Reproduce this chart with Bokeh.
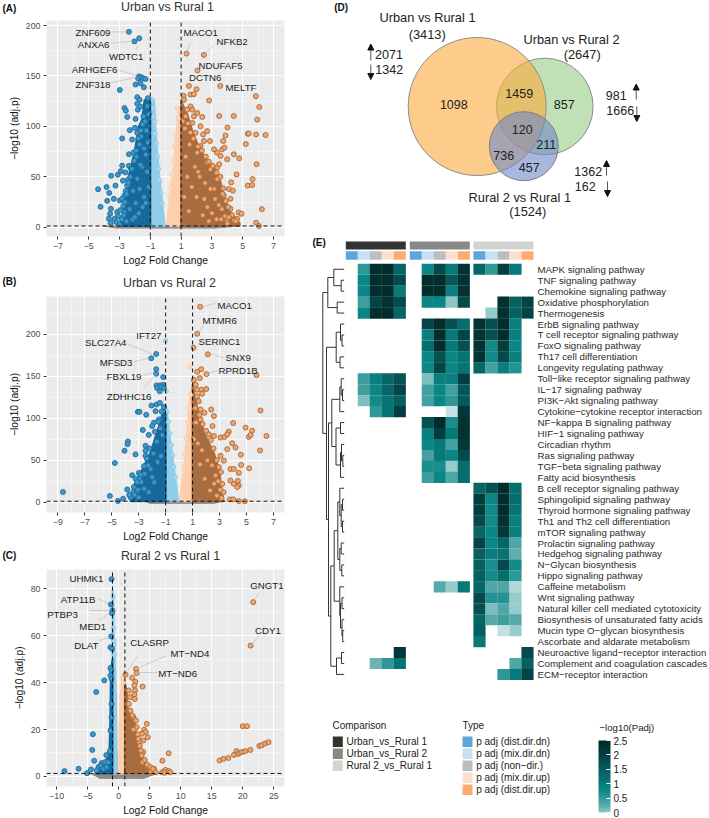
import numpy as np
from bokeh.embed import file_html
from bokeh.resources import INLINE
from bokeh.core.properties import value
from bokeh.layouts import column, row
from bokeh.models import (Arrow, ColorBar, ColumnDataSource, FixedTicker, LinearColorMapper,
                          NormalHead, Range1d)
from bokeh.plotting import figure

FONT = "Liberation Sans"

# ---------- Panel A values ----------
A_down_x = [-2.39,-1.72,-2.03,-1.74,-1.79,-1.59,-1.46,-1.31,-2.98,-1.42,-1.96,-1.64,-1.16,-1.85,-1.7,-1.85,-2.68,-2.59,-2.5,-1.96,-1.81,-1.64,-2.33,-2,-2.83,-2.39,-2.83,-3.11,-3.54,-2.91,-2.78,-4.39,-3.84,-3.67,-3.8,-4.23,-2.98,-3.37,-2.68,-3.26,-3.56,-3.15,-3.61,-3.32,-3.69,-3.58,-2.68,-2.18,-2.39,-2.61,-2.5,-2.83,-1.85,-1.2,-1.1,-1.35,-1.5,-1.25,-1.6,-1.15,-1.4,-1.7,-1.9,-2.1,-2.25,-2.45,-2.6,-2.75,-2.95,-3.1,-3.2,
 -1.45,-1.62,-1.78,-1.92,-2.05,-2.2,-2.3,-2.42,-2.55,-2.65,-2.72,-2.85,-3,-1.3,-1.55,-1.85,-2.12,-1.7,-1.2,-1.95,-2.35,-1.4,-1.75,-2.15,-1.5,-1.1,-1.3,-2.55,-2.0,-1.65]
A_down_y = [193.8,187.3,184.3,149.6,147.4,148.7,147.7,147,136.2,138.8,141.5,142.8,128,129,126.4,122.5,118.2,115.6,109.4,107.4,116.6,119.8,96.3,98.6,88.1,72.4,61.2,52.1,51.1,55.7,46.2,37.7,39.9,34.1,26.2,20.3,26.5,28.2,31.4,41.3,18.3,15.1,13.4,8.5,8.5,4.3,15.1,87,60.9,54.4,41.3,28.2,93.6,120,112,105,102,96,90,84,78,82,70,74,58,47,36,21,17,11,5,
 110,96,88,76,66,58,50,44,33,25,12,8,3,72,60,48,36,38,55,24,18,30,14,8,20,40,24,6,10,62]
A_up_x = [1.35,2.48,2.06,1.5,2,3.54,1.61,1.83,1.16,1.18,2.82,5.85,6.07,5.94,3.47,4.42,2.37,4.01,5.33,5.39,5.87,6.48,5.2,3.73,3.88,2.69,2.43,1.83,1.61,1.39,1.29,1.72,2.04,1.72,2.26,1.94,2.48,2.87,3.67,3.82,4.42,4.77,3.99,3.56,3.34,3.34,2.91,4.6,5.9,4.25,5.64,5.33,5.61,6.24,4.73,4.92,5.87,6.05,3.73,4.1,4.36,3.77,4.2,3.34,3.13,4.64,4.42,3.99,4.2,3.47,2.69,2.26,2.04,3.13,1.1,1.25,1.45,1.6,1.8,2.1,2.35,2.6,2.8,3.05,3.3,3.55,3.7,3.9,4.05,4.3,4.55,
 1.3,1.55,1.9,2.2,2.55,2.9,3.2,3.45,3.65,3.85,4.1,2.0,1.4,2.7,3.0,1.7,2.4,3.3,2.1,1.2,3.6,2.8,1.5,2.5,4.0]
A_up_y = [172.2,170.9,155.5,140.1,136.9,140.1,131.6,132,130.3,126.4,125.7,130,119.2,106.7,110.3,110.3,109.4,98.9,92.7,93,92,91.4,82.5,85.5,91,95.3,92,110,119.8,116.6,110,116.6,113.3,103.5,100.2,93.6,85.5,85.5,77.3,78.9,72.4,68.4,67.5,70.7,74,59.3,57.6,52.4,62.5,44.5,47.8,41.3,41.9,18,14.7,13.4,4.6,1.3,38.6,38,36.3,31.4,28.2,47.8,38,8.5,6.9,6.9,18.3,62.5,64.2,80.5,74,77.3,105,98,103,94,88,80,76,70,65,61,54,50,33,26,20,12,6,
 70,82,60,50,44,38,28,22,18,11,10,30,50,20,14,40,12,8,55,30,8,6,16,28,4]
A_ldown_x = [-0.88,-0.82,-0.78,-0.72,-0.7,-0.62,-0.55,-0.48,-0.4,-0.32,-0.25]
A_ldown_y = [126,118,110,105,93,83,70,58,46,34,24]
A_lup_x = [0.74,0.8,0.66,0.6,0.52,0.42,0.35,0.28]
A_lup_y = [118,108,90,80,66,52,40,30]
A_ddown_x = [-1,-1.38,-1.53,-1.75,-1.96,-2.18,-2.39,-2.61,-2.89,-3.04,-1]
A_ddown_y = [128,126,106.7,100,80.5,64.2,51.1,28.2,5.2,1.3,1.3]
A_dldown_x = [-1,-0.75,-0.68,-0.6,-0.42,-0.2,-0.06,-1]
A_dldown_y = [128,126,100,85,50,20,1.3,1.3]
A_dlup_x = [0.06,0.25,0.45,0.6,0.68,0.85,1,1]
A_dlup_y = [1.3,25,50,75,90,118,120,1.3]
A_dup_x = [1,1.4,1.8,2.2,2.6,3.1,3.5,3.8,4.2,4.8,4.8,1]
A_dup_y = [125,112,92,78,68,60,48,30,15,4,1.3,1.3]
A_ns_x = [-4.1,4.8,3.2,-3.2]
A_ns_y = [1.3,1.3,-0.8,-0.8]

# ---------- Panel B values ----------
B_down_x = [-1.7,-2.07,-1.7,-1.7,-1.18,-1.68,-1.43,-1.18,-1.63,-1.33,-1.13,-1.43,-2.05,-1.68,-1.43,-1.13,-3.06,-2.94,-2.44,-1.75,-1.87,-1.5,-2,-2.25,-2.69,-3.8,-3.83,-4.05,-3.23,-2.49,-2.49,-2.49,-4.77,-3.48,-2.99,-2.91,-3.23,-3.85,-3.36,-3.11,-8.62,-5.14,-4.15,-4.54,-3.48,-2.12,-1.3,-1.55,-1.8,-2.2,-2.4,-2.6,-2.85,-3.1,-3.4,-3.6,-3.7,
 -1.4,-1.65,-1.9,-2.3,-2.55,-2.8,-3.05,-3.3,-1.25,-1.6,-2.0,-2.6,-3.0,-1.85,-1.35,-2.25]
B_down_y = [176.4,171.2,158.3,152.8,148.9,139,139,139.8,135.9,137.1,135.9,132,115,116.3,118.2,113.5,107.6,107.6,104.1,108.4,94.7,98.6,90.7,80.1,86,72.3,69.1,61.3,57,67.2,61.3,55.4,46.7,32.2,35,27.9,27.9,15.3,18.1,13,12.2,7.5,4.3,1.6,8.2,39.7,108,96,84,64,52,43,33,24,12,6,9,
 88,72,58,44,34,24,15,9,80,48,30,16,6,24,55,12]
B_up_x = [1.56,1.34,1.07,2.13,5.74,1.64,1.34,2.03,1.09,1.54,1.22,1.34,1.66,2.01,1.71,1.34,1.46,1.59,2.38,1.88,2.58,6.04,4.01,4.93,5.42,5.17,5.3,6.48,6.01,5.2,4.6,4.58,3.07,3.37,3.69,3.57,3.94,4.18,3.57,3.07,3.32,3.81,4.06,4.43,3.81,4.36,4.43,4.06,4.31,3.76,4.01,4.43,4.88,2.58,2.21,2.48,1.59,1.2,1.5,1.75,2,2.35,2.55,2.8,2.95,3.1,3.2,3.3,
 1.4,1.7,2.1,2.45,2.7,2.9,3.05,1.25,1.9,2.3,2.6,1.55,1.1,2.8,3.15]
B_up_y = [232.5,200.3,183.8,176,151.2,158.3,155.1,152.4,145.7,147.7,139.8,133.9,133.9,134.7,129.2,126,120.2,110.4,110.4,106.4,102.5,109.2,94.3,88.8,85.2,77.8,80.1,78.9,61.7,40.5,44.4,56.6,77,77.8,84,80.9,70.3,65.2,63.2,55.4,49.5,39.7,39.7,35,25.9,25.5,20,22,18.1,3.5,3.5,1.6,1.2,78.9,80.9,90.7,98.6,112,104,93,85,74,64,50,42,36,22,12,
 70,62,50,44,32,25,15,95,28,14,22,45,75,8,5]
B_ldown_x = [-1,-0.95,-0.9,-0.8,-0.7,-0.6,-0.5,-0.4,-0.3]
B_ldown_y = [192,132,108,96,82,68,56,42,30]
B_lup_x = [0.8,0.85,0.75,0.65,0.55,0.45,0.35]
B_lup_y = [161,128,112,95,76,58,42]
B_ddown_x = [-1,-1.25,-1.5,-1.75,-2.1,-2.7,-3.35,-3.6,-3.6,-1]
B_ddown_y = [115,105,90,78,60,40,20,4,1.3,1.3]
B_dldown_x = [-1,-0.85,-0.75,-0.5,-0.25,-0.06,-1]
B_dldown_y = [115,100,85,55,25,1.3,1.3]
B_dlup_x = [0.04,0.25,0.45,0.6,0.7,0.85,1,1]
B_dlup_y = [1.3,25,55,85,105,130,140,1.3]
B_dup_x = [1,1.3,1.6,1.85,2.3,2.6,3,3.2,3.3,1]
B_dup_y = [140,115,100,82,68,58,35,10,1.3,1.3]
B_ns_x = [-2.5,3.3,2.6,-2.2]
B_ns_y = [1.3,1.3,-1.2,-1.2]

# ---------- Panel C values ----------
C_down_x = [-1.16,-1.26,-1,-1.1,-1.21,-1.32,-1.05,-1.32,-1.16,-1.32,-1.16,-2.32,-3.63,-1.16,-1.16,-1.32,-1.42,-4.16,-4.26,-3.95,-2,-8.74,-6.47,-5.1,-4.47,-3.26,-2.74,-2.21,-2.89,-3.53,-2.47,-1.95,-1.68]
C_down_y = [84,73.2,70.6,69.5,59.6,55,54.3,46.2,45.1,43,41.6,40.9,36,30.9,25.2,19.6,10.8,18,11.3,6.7,9.1,2.3,3.3,1.4,3,4,5.7,6.1,4.7,2.6,3.3,4,6.1]
C_up_x = [21.68,21.26,2.79,2.89,1.11,2.16,3.84,2.68,2.53,2.63,2.53,2.58,1.63,1.84,1.63,4.53,4.1,4.37,3.74,4.68,3.95,3.32,3.16,2.37,2.79,8.05,7.05,3.95,3.84,4.89,5.68,5.16,5.95,7.53,7,8.05,8.32,7.37,20,20.68,16.26,16.89,17.68,18.58,19,19.21,19.53,19.89,20.42,21.21,22.68,23.05,23.58,24.16,
 2.2,2.9,3.1,3.4,3.7,4.2,4.6,5.1,5.5,1.9,2.4,3.6]
C_up_y = [74.2,55.7,45.8,44,43.4,42,38.3,40.3,38.7,36.6,34.9,33,36.6,33.8,30.9,22.4,19.9,18.9,18.2,16.7,15.3,14.6,16,25.2,23.8,9.9,6.7,10.4,6.1,4,3.3,2.3,1.8,2.8,1.8,2.3,1.8,1.6,21.4,21.4,6.8,7.5,7.9,9.2,10.8,9.6,10.1,10.4,10.8,11.3,13,13.3,14,14.6,
 26,21,18,13,9,7,5,4,3.2,28,20,11]
C_ldown_x = [-0.9,-0.85,-0.8,-0.75,-0.7]
C_ldown_y = [76.5,63,58,56,52]
C_lup_x = [0.6,0.75]
C_lup_y = [42,40]
C_ddown_x = [-1,-1.25,-1.35,-1.5,-2.2,-3,-3.6,-1]
C_ddown_y = [50,45,25,10,6,3,1.3,1.3]
C_dldown_x = [-1,-0.85,-0.8,-0.6,-0.45,-0.35,-0.2,-1]
C_dldown_y = [80,75,60,50,35,15,1.3,1.3]
C_dlup_x = [0.05,0.1,0.3,0.6,1,1]
C_dlup_y = [1.3,20,35,42,44,1.3]
C_dup_x = [1,1.3,1.5,2.5,2.8,3.3,3.6,4.4,6,6.2,1]
C_dup_y = [40,36,27,26,18,15,8,5,2.5,1.3,1.3]
C_ns_x = [-4.5,6.2,4,-3]
C_ns_y = [1.3,1.3,-0.8,-0.8]

# ---------- Venn values ----------
venn_counts = ["1098","1459","857","120","211","736","457"]
venn_sets = ["Urban vs Rural 1","Urban vs Rural 2","Rural 2 vs Rural 1"]
venn_sizes = ["(3413)","(2647)","(1524)"]
venn_updown = ["2071","1342","981","1666","1362","162"]

# ---------- Heat map values ----------
PATHWAYS = ["MAPK signaling pathway","TNF signaling pathway","Chemokine signaling pathway","Oxidative phosphorylation","Thermogenesis","ErbB signaling pathway","T cell receptor signaling pathway","FoxO signaling pathway","Th17 cell differentiation","Longevity regulating pathway","Toll−like receptor signaling pathway","IL−17 signaling pathway","PI3K−Akt signaling pathway","Cytokine−cytokine receptor interaction","NF−kappa B signaling pathway","HIF−1 signaling pathway","Circadian rhythm","Ras signaling pathway","TGF−beta signaling pathway","Fatty acid biosynthesis","B cell receptor signaling pathway","Sphingolipid signaling pathway","Thyroid hormone signaling pathway","Th1 and Th2 cell differentiation","mTOR signaling pathway","Prolactin signaling pathway","Hedgehog signaling pathway","N−Glycan biosynthesis","Hippo signaling pathway","Caffeine metabolism","Wnt signaling pathway","Natural killer cell mediated cytotoxicity","Biosynthesis of unsaturated fatty acids","Mucin type O−glycan biosynthesis","Ascorbate and aldarate metabolism","Neuroactive ligand−receptor interaction","Complement and coagulation cascades","ECM−receptor interaction"]
_ = float("nan")
HEAT = [
 [_,.8,2.4,2.4,1.5, _,1.0,1.9,1.2,2.3, 1.5,.8,2.1,1.2,_],
 [_,1.0,2.4,2.4,1.9, _,2.4,2.4,1.7,2.3, _,_,_,_,_],
 [_,1.0,2.4,2.4,1.2, _,2.4,2.4,1.1,2.3, _,_,_,_,_],
 [_,.7,2.0,2.3,1.9, _,1.0,1.0,.35,1.9, _,_,2.3,1.6,2.0],
 [_,1.0,2.4,2.4,1.5, _,_,_,_,_, _,.3,2.3,1.6,2.0],
 [_,_,_,_,_, _,2.0,2.4,1.8,1.4, 2.3,1.8,2.4,1.1,_],
 [_,_,_,_,_, _,1.1,2.4,1.2,2.0, 2.3,1.8,2.4,1.1,_],
 [_,_,_,_,_, _,1.4,2.4,1.2,1.8, 2.3,.95,2.1,1.0,_],
 [_,_,_,_,_, _,1.0,1.8,1.0,1.3, 2.3,.95,1.9,1.1,_],
 [_,_,_,_,_, _,1.0,2.0,1.0,1.3, 1.5,.65,1.1,.85,_],
 [_,.7,1.1,1.5,1.8, _,.4,1.1,1.1,2.1, _,_,_,_,_],
 [_,.7,1.0,1.5,2.0, _,.65,1.0,.65,1.7, _,_,_,_,_],
 [_,.4,.95,1.3,1.6, _,.65,1.0,.8,1.7, _,_,_,_,_],
 [_,_,.8,1.3,2.1, _,_,_,.12,2.2, _,_,_,_,_],
 [_,_,_,_,_, _,1.8,2.4,.9,2.3, _,_,_,_,_],
 [_,_,_,_,_, _,1.1,2.1,1.2,2.3, _,_,_,_,_],
 [_,_,_,_,_, _,1.0,1.2,.65,2.2, _,_,_,_,_],
 [_,_,_,_,_, _,.65,1.2,1.0,1.9, _,_,_,_,_],
 [_,_,_,_,_, _,.9,.9,.3,1.4, _,_,_,_,_],
 [_,_,_,_,_, _,.7,1.0,.6,1.4, _,_,_,_,_],
 [_,_,_,_,_, _,_,_,_,_, 1.5,1.8,2.4,1.4,_],
 [_,_,_,_,_, _,_,_,_,_, 2.1,1.0,2.4,1.4,_],
 [_,_,_,_,_, _,_,_,_,_, 2.1,.95,2.4,1.3,_],
 [_,_,_,_,_, _,_,_,_,_, 1.9,.95,2.3,1.1,_],
 [_,_,_,_,_, _,_,_,_,_, 1.5,1.0,2.2,1.1,_],
 [_,_,_,_,_, _,_,_,_,_, 2.0,1.0,1.5,.6,_],
 [_,_,_,_,_, _,_,_,_,_, 1.6,1.15,1.3,.5,_],
 [_,_,_,_,_, _,_,_,_,_, 1.6,.9,1.9,.95,_],
 [_,_,_,_,_, _,_,_,_,_, 1.6,.95,1.4,.8,_],
 [_,_,_,_,_, _,_,.55,.3,1.2, 1.5,.6,.6,.2,_],
 [_,_,_,_,_, _,_,_,_,_, 1.9,.85,.85,.3,_],
 [_,_,_,_,_, _,_,_,_,_, 1.8,.4,.6,.3,_],
 [_,_,_,_,_, _,_,_,_,_, 1.5,.55,.7,.55,_],
 [_,_,_,_,_, _,_,_,_,_, 1.6,_,.15,.3,_],
 [_,_,_,_,_, _,_,_,_,_, 1.2,_,_,_,_],
 [_,_,_,_,2.2, _,_,_,_,_, _,_,_,_,1.9],
 [_,_,.45,.8,1.3, _,_,_,_,_, _,_,_,.6,1.6],
 [_,_,_,_,_, _,_,_,_,_, _,_,.8,1.2,2.0],
]
COMPARISONS = ["Urban_vs_Rural 1","Urban_vs_Rural 2","Rural 2_vs_Rural 1"]
COMP_COLORS = ["#333333","#888888","#D3D3D3"]
TYPES = ["p adj (dist.dir.dn)","p adj (mix.dir.dn)","p adj (non−dir.)","p adj (mix.dir.up)","p adj (dist.dir.up)"]
TYPE_COLORS = ["#5BA8D8","#C3E2F4","#BDBDBD","#FCE0CE","#FDAB6E"]
# dendrogram: (merge position, child, child); integers are rows
t1 = (327.3,(333.3,0,(340.7,1,2)),(336.7,3,4))
t2 = (335.7,(340,5,(341.5,6,7)),(339.5,8,9))
t3 = (331.3,(339.3,(340.7,10,(342,11,12)),13),(335.5,(340,14,15),(340,(341,16,(342.3,17,18)),19)))
t4 = (337.3,(339.3,20,(340.7,(342,21,22),(342,23,24))),(339.3,(340.7,25,26),(341.3,27,28)))
t5 = (339.3,29,(340,(341.5,30,31),(341.5,32,(342.2,33,34))))
t7 = (336,(341,35,36),37)
DENDRO = (322.3,t1,(326,t2,(328,t3,(330.3,(333.7,t4,t5),t7))))


def text(p, xs, ys, ts, size="12.5px", align="center", color="#222222", style="normal"):
    p.text(xs, ys, text=ts, text_align=align, text_baseline="middle", text_font=value(FONT),
           text_font_size=size, text_color=color, text_font_style=style)


def blank(width, height, xr, yr):
    f = figure(width=width, height=height, output_backend="svg", toolbar_location=None, tools="",
               x_range=Range1d(*xr), y_range=Range1d(*yr), x_axis_type=None, y_axis_type=None,
               min_border=0, outline_line_color=None)
    f.grid.visible = False
    return f


def volcano(title, title_x, title_y, letter, letter_y, page_top, page_bottom, frame, xlim, ylim, xticks, xminor, yticks, yminor, d, labels):
    L, R, T, B = frame
    head = blank(290, T - page_top, (0, 290), (T, page_top))
    text(head, [title_x], [title_y], [title], size="12.4px", color="#333333")
    text(head, [2], [letter_y], [letter], size="10px", align="left", color="#111111", style="bold")
    dx = lambda px: xlim[0] + (px - L) / (R - L) * (xlim[1] - xlim[0])
    dy = lambda py: ylim[1] - (py - T) / (B - T) * (ylim[1] - ylim[0])
    p = figure(width=290, height=page_bottom - T, output_backend="svg", toolbar_location=None,
               x_range=Range1d(*xlim), y_range=Range1d(*ylim), tools="",
               min_border_left=L, min_border_right=290 - R, min_border_top=0,
               min_border_bottom=page_bottom - B)
    p.background_fill_color = "#EBEBEB"
    p.outline_line_color = None
    p.xaxis.ticker = FixedTicker(ticks=xticks, minor_ticks=xminor)
    p.yaxis.ticker = FixedTicker(ticks=yticks, minor_ticks=yminor)
    p.xaxis.major_label_overrides = {t: (f"−{abs(t)}" if t < 0 else str(t)) for t in xticks}
    p.xaxis.axis_label = "Log2 Fold Change"
    p.yaxis.axis_label = "−log10 (adj.p)"
    for ax in (p.xaxis[0], p.yaxis[0]):
        ax.axis_line_color = None
        ax.major_tick_in = 0
        ax.major_tick_out = 3
        ax.minor_tick_line_color = None
        ax.major_tick_line_color = "#333333"
        ax.major_label_text_font = FONT
        ax.major_label_text_font_size = "8.8px"
        ax.major_label_text_color = "#4D4D4D"
        ax.major_label_standoff = 2
        ax.axis_label_text_font = FONT
        ax.axis_label_text_font_size = "10.3px"
        ax.axis_label_text_font_style = "normal"
        ax.axis_label_text_color = "#111111"
        ax.axis_label_standoff = 3
    for g in (p.xgrid[0], p.ygrid[0]):
        g.grid_line_color = "white"
        g.grid_line_width = 1
        g.minor_grid_line_color = "white"
        g.minor_grid_line_width = 0.4
    p.patch(d["ns"][0], d["ns"][1], fill_color="#8A8A8A", line_color="#8A8A8A", line_width=1)
    p.patch(d["dl"][0], d["dl"][1], fill_color="#8FCDEB", line_color="#8FCDEB", line_width=2)
    p.patch(d["ul"][0], d["ul"][1], fill_color="#FFCFAD", line_color="#FFCFAD", line_width=2)
    p.patch(d["dd"][0], d["dd"][1], fill_color="#17699B", line_color="#17699B", line_width=2)
    p.patch(d["ud"][0], d["ud"][1], fill_color="#A76D40", line_color="#A76D40", line_width=2)
    p.scatter(d["ld"][0], d["ld"][1], size=4.6, fill_color="#A8D9F1", line_color="#7FC3E6", line_width=0.6)
    p.scatter(d["lu"][0], d["lu"][1], size=4.6, fill_color="#FFD9BE", line_color="#FBC59E", line_width=0.6)
    p.scatter(d["d"][0], d["d"][1], size=5, fill_color="#3F97C8", line_color="#1B6C9E", line_width=0.9)
    p.scatter(d["u"][0], d["u"][1], size=5, fill_color="#F0A56A", line_color="#A5673A", line_width=0.9)
    dash = dict(line_color="#111111", line_dash="4 3", line_width=1)
    p.segment([-1, 1, xlim[0]], [ylim[0], ylim[0], 1.3], [-1, 1, xlim[1]], [ylim[1], ylim[1], 1.3], **dash)
    names, lx, ly, aligns, sx0, sy0, sx1, sy1 = [], [], [], [], [], [], [], []
    for n, x, y, a, seg in labels:
        names.append(n); lx.append(dx(x)); ly.append(dy(y)); aligns.append(a)
        if seg:
            sx0.append(dx(seg[0])); sy0.append(dy(seg[1])); sx1.append(dx(seg[2])); sy1.append(dy(seg[3]))
    p.segment(sx0, sy0, sx1, sy1, line_color="#BDBDBD", line_width=0.7)
    p.text(lx, ly, text=names, text_align=aligns, text_baseline="middle", text_font=value(FONT),
           text_font_size="9.7px", text_color="#1A1A1A")
    # the header sits in a row of its own so that Bokeh does not align its frame with the plot's
    return [row(head, spacing=0), p]


pa = volcano("Urban vs Rural 1", 167, 6, "(A)", 8, 0, 268, (46, 284, 20, 238), (-7.74, 7.71), (-9.14, 205),
    [-7,-5,-3,-1,1,3,5,7], [-6,-4,-2,0,2,4,6], [0,50,100,150,200], [25,75,125,175],
    dict(d=(A_down_x,A_down_y), u=(A_up_x,A_up_y), ld=(A_ldown_x,A_ldown_y), lu=(A_lup_x,A_lup_y),
         dd=(A_ddown_x,A_ddown_y), dl=(A_dldown_x,A_dldown_y), ul=(A_dlup_x,A_dlup_y), ud=(A_dup_x,A_dup_y), ns=(A_ns_x,A_ns_y)),
    [("ZNF609",110,32,"right",(111,31.5,125,31.5)),("ANXA6",109,44,"right",(110,43,131,41)),
     ("WDTC1",143,56,"right",(136,50,137,45)),("ARHGEF6",117,69,"right",(118,70,137,76)),
     ("ZNF318",110,85,"right",(111,83,136,77)),("MACO1",183,32,"left",(190,43,186,51)),
     ("NFKB2",216,41,"left",(212,46,204,54)),("NDUFAF5",198,65,"left",None),("DCTN6",188.5,77.5,"left",None),
     ("MELTF",225,88,"left",None)])

pb = volcano("Urban vs Rural 2", 169, 282.7, "(B)", 281, 268, 544, (46, 284, 296, 514), (-9.84, 7.82), (-12.1, 244.7),
    [-9,-7,-5,-3,-1,1,3,5,7], [-8,-6,-4,-2,0,2,4,6], [0,50,100,150,200], [25,75,125,175,225],
    dict(d=(B_down_x,B_down_y), u=(B_up_x,B_up_y), ld=(B_ldown_x,B_ldown_y), lu=(B_lup_x,B_lup_y),
         dd=(B_ddown_x,B_ddown_y), dl=(B_dldown_x,B_dldown_y), ul=(B_dlup_x,B_dlup_y), ud=(B_dup_x,B_dup_y), ns=(B_ns_x,B_ns_y)),
    [("MACO1",217,305,"left",(215,303,203,306)),("MTMR6",202,320,"left",(203,325,198,332)),
     ("IFT27",161,335,"right",None),("SLC27A4",126,342,"right",(127,344,152,354)),
     ("SERINC1",198,341.5,"left",None),("MFSD3",132,363,"right",(133,362,149,358)),
     ("SNX9",225,358,"left",(224,358,211,354)),("RPRD1B",218,371,"left",(217,371,208,373)),
     ("FBXL19",141,377,"right",(142,376,154,372)),("ZDHHC16",151,397,"right",(143,389,155,375))])

pc = volcano("Rural 2 vs Rural 1", 170, 555, "(C)", 554.7, 544, 818, (42, 285, 569, 786), (-11.64, 26.73), (-4.26, 88.1),
    [-10,-5,0,5,10,15,20,25], [-7.5,-2.5,2.5,7.5,12.5,17.5,22.5], [0,20,40,60,80], [10,30,50,70],
    dict(d=(C_down_x,C_down_y), u=(C_up_x,C_up_y), ld=(C_ldown_x,C_ldown_y), lu=(C_lup_x,C_lup_y),
         dd=(C_ddown_x,C_ddown_y), dl=(C_dldown_x,C_dldown_y), ul=(C_dlup_x,C_dlup_y), ud=(C_dup_x,C_dup_y), ns=(C_ns_x,C_ns_y)),
    [("UHMK1",100,577.7,"right",(117,582,120,585)),("ATP11B",92,598.7,"right",(94,598,105,603)),
     ("PTBP3",74,613.7,"right",(86,610,106,610)),("MED1",103,626,"right",(95,620,106,613)),
     ("DLAT",95,645,"right",(96,640,106,637)),("CLASRP",127.5,642,"left",(135,656,125,670)),
     ("MT−ND4",168.5,653,"left",(165,655,134,668)),("MT−ND6",156,672.5,"left",(155,672,136,672)),
     ("GNGT1",250,584.7,"left",(259,592,254,600)),("CDY1",255,629.7,"left",(259,635,251,645))])

# ---------- Venn ----------
pd_ = blank(419, 235, (290, 709), (235, 0))
pd_.circle([544.3], [106], radius=48.3, fill_color="#8CC878", fill_alpha=0.55, line_color="#8C8C8C", line_width=1)
pd_.circle([476.7], [106], radius=69, fill_color="#FBAA3C", fill_alpha=0.6, line_color="#8C8C8C", line_width=1)
pd_.circle([523.3], [145.7], radius=34.5, fill_color="#6E87C8", fill_alpha=0.6, line_color="#7F7F7F", line_width=1)
text(pd_, [453.3,518.7,563.7,521.7,545.7,503.3,528.7], [104,92.5,104,128.5,143.5,154.5,167], venn_counts)
text(pd_, [427,571,519.3], [17,39,196.5], venn_sets, size="12.8px")
text(pd_, [426.7,581.7,527.3], [34,54,211], venn_sizes, size="12.8px")
text(pd_, [388.5,388.7,615.7,619.7,587.7,584.7], [54,68.5,95,109.5,171,185.7], venn_updown)
text(pd_, [333.7], [6.5], ["(D)"], size="10px", align="left", style="bold", color="#111111")
for x0, y0, y1 in [(370.3,60,43.5),(370.3,64,79),(635.7,99,83.5),(636.3,106,121),(606,175,160),(607,181,196)]:
    pd_.add_layout(Arrow(end=NormalHead(size=6, fill_color="#111111", line_color="#111111"),
                         x_start=x0, y_start=y0, x_end=x0, y_end=y1, line_color="#555555", line_width=1))

# ---------- Heat map ----------
pe = blank(419, 583, (290, 709), (818, 235))
stops_v = [0, .25, .5, 1, 1.5, 2, 2.5]
stops_c = np.array([[0xE3,0xF1,0xF1],[0xA5,0xD2,0xD2],[0x5E,0xAD,0xAD],[0x0A,0x86,0x86],[0x06,0x66,0x66],[0x04,0x44,0x44],[0x01,0x27,0x27]], float)
grid_v = np.linspace(0, 2.5, 128)
palette = ["#%02x%02x%02x" % tuple(int(round(np.interp(v, stops_v, stops_c[:, i]))) for i in range(3)) for v in grid_v]
mapper = LinearColorMapper(palette=palette, low=0, high=2.5)

GX = [345.3, 409.3, 473.0]
CW, RH, RY0 = 12.0, 10.95, 263.3
cx, cy, cv = [], [], []
for r, vals in enumerate(HEAT):
    for c, v in enumerate(vals):
        if v == v:
            cx.append(GX[c // 5] + (c % 5 + .5) * CW)
            cy.append(RY0 + (r + .5) * RH)
            cv.append(v)
pe.rect("x", "y", width=CW + .15, height=RH + .15, source=ColumnDataSource(dict(x=cx, y=cy, v=cv)),
        fill_color={"field": "v", "transform": mapper}, line_color=None)
for g, x0 in enumerate(GX):
    pe.rect([x0 + 30], [245], width=60, height=8, fill_color=COMP_COLORS[g], line_color=None)
    pe.rect([x0 + (i + .5) * CW for i in range(5)], [255] * 5, width=CW, height=8.6, fill_color=TYPE_COLORS, line_color=None)
text(pe, [537] * len(PATHWAYS), [RY0 + (i + .5) * RH for i in range(len(PATHWAYS))], PATHWAYS, size="9.7px", align="left", color="#2B2B2B")
text(pe, [312], [242.3], ["(E)"], size="10px", align="left", style="bold", color="#111111")

x0s, y0s, x1s, y1s = [], [], [], []
TIP = 343.7


def walk(n):
    if isinstance(n, int):
        return TIP, RY0 + (n + .5) * RH
    h, a, b = n
    ax, ay = walk(a)
    bx, by = walk(b)
    x0s.extend([h, h, h]); y0s.extend([ay, ay, by]); x1s.extend([ax, h, bx]); y1s.extend([ay, by, by])
    return h, (ay + by) / 2


walk(DENDRO)
pe.segment(x0s, y0s, x1s, y1s, line_color="#333333", line_width=1)

# legends
text(pe, [332], [725.3], ["Comparison"], size="10px", align="left")
for i, c in enumerate(COMP_COLORS):
    pe.rect([337.3], [741.3 + 12 * i], width=10, height=10.6, fill_color=c, line_color=None)
text(pe, [346] * 3, [741.3 + 12 * i for i in range(3)], COMPARISONS, size="10px", align="left")
text(pe, [462], [725.3], ["Type"], size="10px", align="left")
for i, c in enumerate(TYPE_COLORS):
    pe.rect([467], [741.3 + 12 * i], width=10, height=10.6, fill_color=c, line_color=None)
text(pe, [475.7] * 5, [741.3 + 12 * i for i in range(5)], TYPES, size="10px", align="left")
text(pe, [599], [726.7], ["−log10(Padj)"], size="9.6px", align="left")
bar_mapper = LinearColorMapper(palette=palette[16:], low=0, high=2.5)
cb = ColorBar(color_mapper=bar_mapper, ticker=FixedTicker(ticks=[0, .5, 1, 1.5, 2, 2.5]), width=12, height=72,
              location=(308, 6), major_label_overrides={0: "0", .5: "0.5", 1: "1", 1.5: "1.5", 2: "2", 2.5: "2.5"},
              major_tick_line_color="white", major_tick_in=4, major_tick_out=0, bar_line_color=None,
              background_fill_color=None, border_line_color=None, padding=0, margin=0,
              major_label_text_font=FONT, major_label_text_font_size="10px", major_label_text_color="#222222",
              label_standoff=3)
pe.add_layout(cb)

root = row(column(*pa, *pb, *pc, spacing=0), column(pd_, pe, spacing=0), spacing=0)
open("out.html", "w").write(file_html(root, INLINE))
